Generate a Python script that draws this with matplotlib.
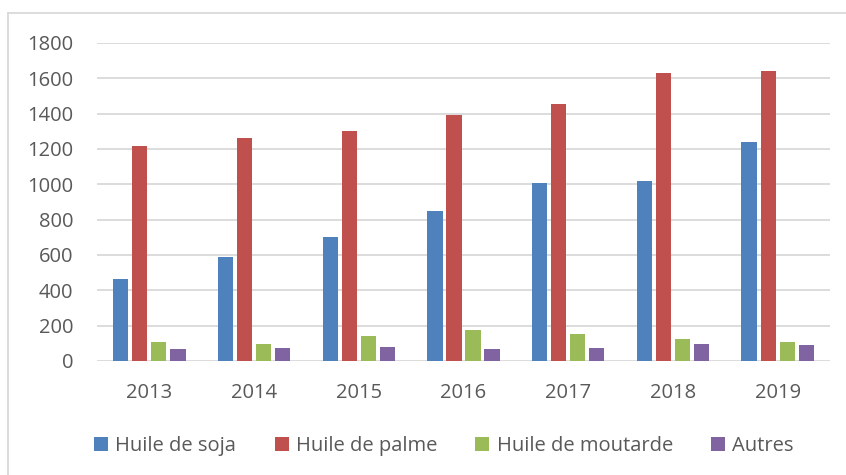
import matplotlib
matplotlib.use('Agg')
import matplotlib.pyplot as plt
import numpy as np
from matplotlib.lines import Line2D
from matplotlib.patches import Patch

# donnees
annees = ['2013', '2014', '2015', '2016', '2017', '2018', '2019']
soja = [465, 590, 700, 850, 1008, 1018, 1240]
palme = [1218, 1265, 1302, 1393, 1455, 1630, 1640]
moutarde = [110, 98, 140, 174, 151, 126, 107]
autres = [66, 76, 78, 68, 76, 96, 89]

series = [('Huile de soja', soja, '#4F81BD'),
          ('Huile de palme', palme, '#C0504D'),
          ('Huile de moutarde', moutarde, '#9BBB59'),
          ('Autres', autres, '#8064A2')]

plt.rcParams['font.family'] = ['Open Sans', 'DejaVu Sans']
gris = '#595959'

W, H = 846, 475
fig = plt.figure(figsize=(W / 100, H / 100), dpi=100)
ax = fig.add_axes([97 / W, (H - 361) / H, (830 - 97) / W, (361 - 43) / H])

x = np.arange(len(annees))
pas = 0.182
for i, (nom, vals, couleur) in enumerate(series):
    ax.bar(x + (i - 1.5) * pas, vals, width=0.145, color=couleur, label=nom, zorder=3)

ax.set_xlim(-0.5, len(annees) - 0.5)
ax.set_ylim(0, 1800)
ax.set_yticks(range(0, 1801, 200))
ax.set_xticks(x)
ax.set_xticklabels(annees)
ax.tick_params(axis='both', length=0, labelsize=14.5, colors=gris)
ax.tick_params(axis='y', pad=17)
ax.tick_params(axis='x', pad=16)
ax.grid(axis='y', color='#D9D9D9', linewidth=1.3, zorder=0)
for s in ax.spines.values():
    s.set_visible(False)

# cadre du graphique (bords haut et gauche visibles)
fig.add_artist(Line2D([8 / W, 8 / W], [0, (H - 13) / H], color='#D9D9D9', linewidth=1.3))
fig.add_artist(Line2D([8 / W, 1], [(H - 13) / H, (H - 13) / H], color='#D9D9D9', linewidth=1.3))

poignees = [Patch(facecolor=c, edgecolor='none') for _, _, c in series]
leg = fig.legend(poignees, [n for n, _, _ in series], loc='center',
                 bbox_to_anchor=(444 / W, (H - 446) / H), ncol=4, frameon=False,
                 handlelength=0.7, handleheight=0.7, handletextpad=0.35,
                 columnspacing=1.9, fontsize=14.5)
for t in leg.get_texts():
    t.set_color(gris)

fig.savefig('out.png', dpi=100)
